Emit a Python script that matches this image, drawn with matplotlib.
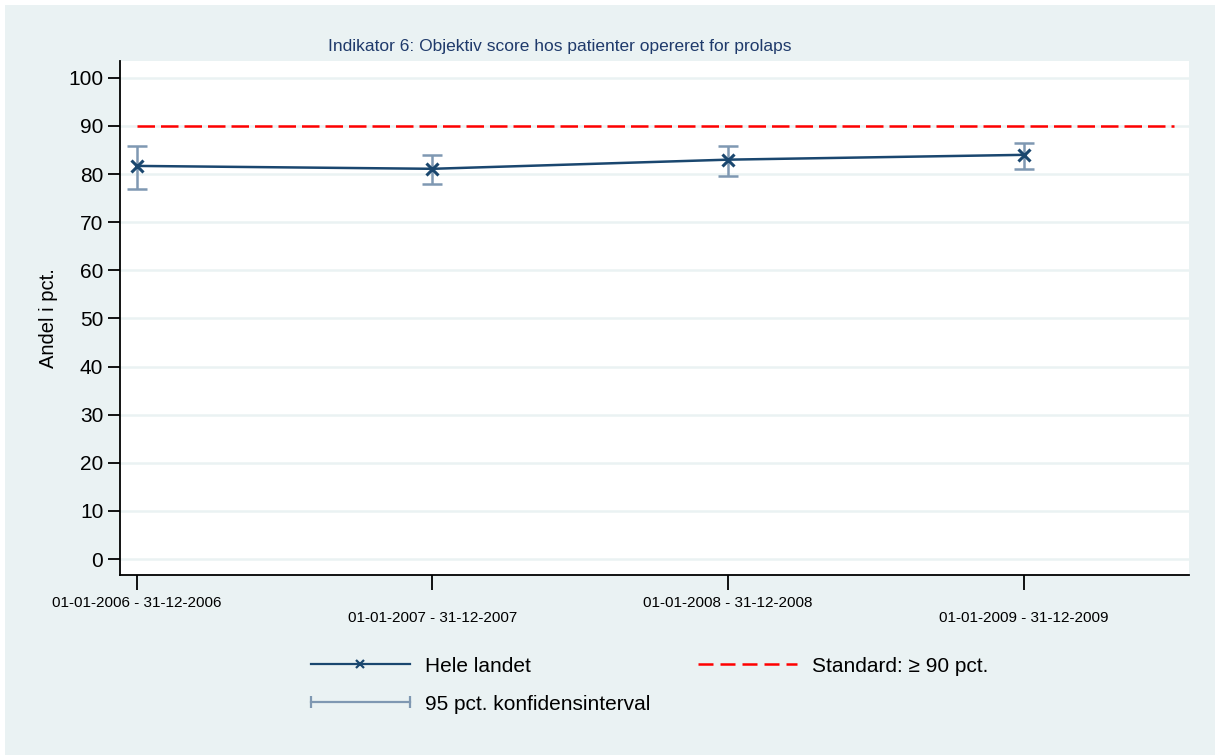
import matplotlib.pyplot as plt
from matplotlib.lines import Line2D
from matplotlib.legend_handler import HandlerLine2D
from matplotlib.patches import Rectangle

# data
periods = ['01-01-2006 - 31-12-2006', '01-01-2007 - 31-12-2007',
           '01-01-2008 - 31-12-2008', '01-01-2009 - 31-12-2009']
andel = [81.7, 81.1, 83.0, 84.0]
ci_low = [76.9, 78.0, 79.6, 81.1]
ci_high = [85.9, 84.0, 85.9, 86.5]
standard = 90
yticks = list(range(0, 101, 10))

NAVY = '#1a476f'
CI_COL = '#7f98b2'
RED = '#ff0000'
BG = '#eaf2f3'
plt.rcParams['font.family'] = ['Liberation Sans', 'DejaVu Sans']

fig = plt.figure(figsize=(12.15, 7.55), dpi=100)
fig.patch.set_facecolor('white')
fig.patches.append(Rectangle((5 / 1215, 0), 1, 750 / 755, transform=fig.transFigure,
                             facecolor=BG, edgecolor='none', zorder=-10))

ax = fig.add_axes([120 / 1215, 180 / 755, 1069 / 1215, 514 / 755])
ax.set_facecolor('white')

x = list(range(len(periods)))
ax.set_xlim(-0.0575, 3.56)
ax.set_ylim(-3.3, 103.5)

for v in yticks:
    ax.axhline(v, color=BG, linewidth=1.8, zorder=0)

# standard line
ax.plot([0, 3.51], [standard, standard], color=RED, linewidth=1.8,
        dashes=(7, 2.4), zorder=2)

# confidence intervals
yerr = [[a - l for a, l in zip(andel, ci_low)], [h - a for a, h in zip(andel, ci_high)]]
ax.errorbar(x, andel, yerr=yerr, fmt='none', ecolor=CI_COL, elinewidth=1.8,
            capsize=7, capthick=1.8, zorder=3)
ax.plot(x, andel, color=NAVY, linewidth=1.8, marker='x', markersize=8,
        markeredgewidth=2.2, zorder=4)

ax.set_yticks(yticks)
ax.set_yticklabels([str(v) for v in yticks], fontsize=15)
ax.set_xticks(x)
ax.set_xticklabels(periods, fontsize=11)
ax.tick_params(axis='y', length=9, width=1.3, pad=3)
ax.tick_params(axis='x', length=11, width=1.3, pad=4)
for i, t in enumerate(ax.xaxis.get_major_ticks()):
    if i % 2 == 1:
        t.set_pad(14.8)

for s in ['top', 'right']:
    ax.spines[s].set_visible(False)
for s in ['left', 'bottom']:
    ax.spines[s].set_linewidth(1.3)

ax.set_ylabel('Andel i pct.', fontsize=14.5)
ax.yaxis.set_label_coords(-0.058, 0.5)

fig.text(560 / 1215, 1 - 46 / 755, 'Indikator 6: Objektiv score hos patienter opereret for prolaps',
         ha='center', va='center', fontsize=12.5, color='#1f3a6b')

# legend
h_line = Line2D([], [], color=NAVY, linewidth=1.6, marker='x', markersize=6, markeredgewidth=1.6)
h_ci = Line2D([], [], color=CI_COL, linewidth=1.6, marker='|', markersize=9, markeredgewidth=1.6)
h_std = Line2D([], [], color=RED, linewidth=1.8, dashes=(6, 2.8))
leg = fig.legend([h_line, h_ci, h_std],
                 ['Hele landet', '95 pct. konfidensinterval', 'Standard: \u2265 90 pct.'],
                 handler_map={h_line: HandlerLine2D(numpoints=1),
                              h_ci: HandlerLine2D(numpoints=2, marker_pad=0)},
                 ncol=2, loc='upper left', bbox_to_anchor=(292 / 1215, 1 - 638 / 755),
                 frameon=False, fontsize=15, handlelength=4.75, handletextpad=0.72,
                 labelspacing=0.9, columnspacing=2.3)

fig.savefig('out.png', dpi=100)
